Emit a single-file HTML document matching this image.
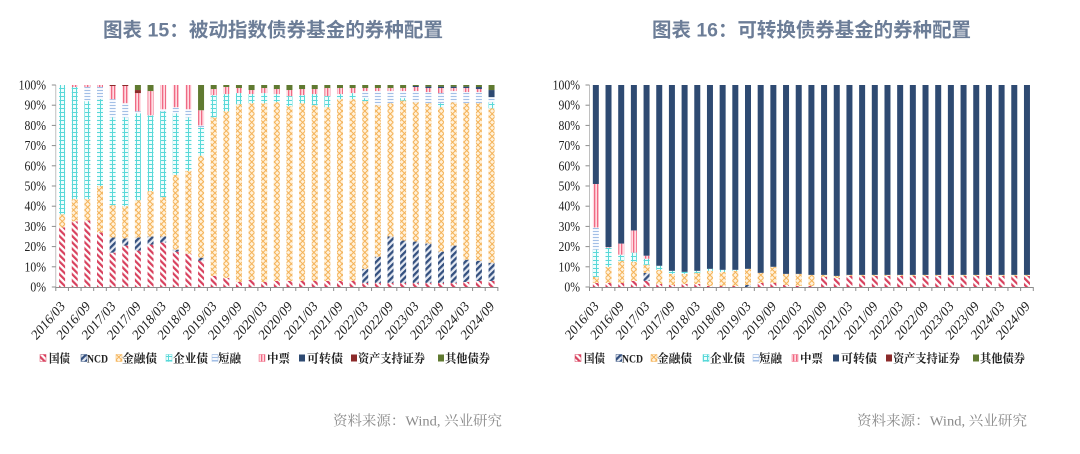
<!DOCTYPE html>
<html><head><meta charset="utf-8">
<style>
html,body{margin:0;padding:0;background:#fff;}
svg{display:block;}
.t{font-family:"Liberation Sans","Noto Sans CJK SC",sans-serif;font-weight:bold;font-size:19.5px;fill:#6c7d97;}
.ax{font-family:"Liberation Serif","Noto Serif CJK SC",serif;font-size:13.5px;fill:#222;}
.xl{font-family:"Liberation Serif","Noto Serif CJK SC",serif;font-size:14.5px;fill:#222;}
.lg{font-family:"Liberation Serif","Noto Serif CJK SC",serif;font-size:12px;fill:#222;font-weight:bold;}
.src{font-family:"Liberation Serif","Noto Serif CJK SC",serif;font-size:14px;fill:#8a8a8a;}
</style></head><body>
<svg id="s" xmlns="http://www.w3.org/2000/svg" width="1080" height="454" viewBox="0 0 1080 454">
<defs>
<pattern id="pGZ" width="4.5" height="4.5" patternUnits="userSpaceOnUse" patternTransform="rotate(-45)">
<rect width="4.5" height="4.5" fill="#fff"/><rect width="2.2" height="4.5" fill="#d8415e"/></pattern>
<pattern id="pNCD" width="4.5" height="4.5" patternUnits="userSpaceOnUse" patternTransform="rotate(45)">
<rect width="4.5" height="4.5" fill="#e6eaf2"/><rect width="2.3" height="4.5" fill="#34507f"/></pattern>
<pattern id="pJR" width="4" height="4" patternUnits="userSpaceOnUse" patternTransform="rotate(45)">
<rect width="4" height="4" fill="#fff1da"/><rect width="1" height="4" fill="#f4b257"/><rect width="4" height="1" fill="#f4b257"/></pattern>
<pattern id="pQY" width="4" height="4" patternUnits="userSpaceOnUse">
<rect width="4" height="4" fill="#effdfd"/><rect width="1" height="4" fill="#58d8d8"/><rect width="4" height="1" fill="#58d8d8"/></pattern>
<pattern id="pDR" width="3" height="3" patternUnits="userSpaceOnUse">
<rect width="3" height="3" fill="#f6f9fe"/><rect width="3" height="1" fill="#a3bfe6"/></pattern>
<pattern id="pZP" width="3" height="3" patternUnits="userSpaceOnUse">
<rect width="3" height="3" fill="#ffdbe2"/><rect width="1.3" height="3" fill="#f06a84"/></pattern>
</defs>

<!-- Titles -->
<text class="t" x="103" y="36.5" textLength="340" lengthAdjust="spacingAndGlyphs">图表 15：被动指数债券基金的券种配置</text>
<text class="t" x="652" y="36.5" textLength="319" lengthAdjust="spacingAndGlyphs">图表 16：可转换债券基金的券种配置</text>

<g id="bars"></g>

<!-- Left Y labels -->
<g class="ax" text-anchor="end">
<text transform="translate(46,291.5) scale(0.87,1)">0%</text>
<text transform="translate(46,271.3) scale(0.87,1)">10%</text>
<text transform="translate(46,251.1) scale(0.87,1)">20%</text>
<text transform="translate(46,230.9) scale(0.87,1)">30%</text>
<text transform="translate(46,210.7) scale(0.87,1)">40%</text>
<text transform="translate(46,190.5) scale(0.87,1)">50%</text>
<text transform="translate(46,170.3) scale(0.87,1)">60%</text>
<text transform="translate(46,150.1) scale(0.87,1)">70%</text>
<text transform="translate(46,129.9) scale(0.87,1)">80%</text>
<text transform="translate(46,109.7) scale(0.87,1)">90%</text>
<text transform="translate(46,89.5) scale(0.87,1)">100%</text>
</g>
<!-- Right Y labels -->
<g class="ax" text-anchor="end">
<text transform="translate(580,291.5) scale(0.87,1)">0%</text>
<text transform="translate(580,271.3) scale(0.87,1)">10%</text>
<text transform="translate(580,251.1) scale(0.87,1)">20%</text>
<text transform="translate(580,230.9) scale(0.87,1)">30%</text>
<text transform="translate(580,210.7) scale(0.87,1)">40%</text>
<text transform="translate(580,190.5) scale(0.87,1)">50%</text>
<text transform="translate(580,170.3) scale(0.87,1)">60%</text>
<text transform="translate(580,150.1) scale(0.87,1)">70%</text>
<text transform="translate(580,129.9) scale(0.87,1)">80%</text>
<text transform="translate(580,109.7) scale(0.87,1)">90%</text>
<text transform="translate(580,89.5) scale(0.87,1)">100%</text>
</g>

<!-- Left X labels -->
<g class="xl" text-anchor="end">
<text transform="translate(65.6,307) scale(0.87,1) rotate(-45)">2016/03</text>
<text transform="translate(90.9,307) scale(0.87,1) rotate(-45)">2016/09</text>
<text transform="translate(116.1,307) scale(0.87,1) rotate(-45)">2017/03</text>
<text transform="translate(141.4,307) scale(0.87,1) rotate(-45)">2017/09</text>
<text transform="translate(166.6,307) scale(0.87,1) rotate(-45)">2018/03</text>
<text transform="translate(191.9,307) scale(0.87,1) rotate(-45)">2018/09</text>
<text transform="translate(217.2,307) scale(0.87,1) rotate(-45)">2019/03</text>
<text transform="translate(242.4,307) scale(0.87,1) rotate(-45)">2019/09</text>
<text transform="translate(267.7,307) scale(0.87,1) rotate(-45)">2020/03</text>
<text transform="translate(292.9,307) scale(0.87,1) rotate(-45)">2020/09</text>
<text transform="translate(318.2,307) scale(0.87,1) rotate(-45)">2021/03</text>
<text transform="translate(343.5,307) scale(0.87,1) rotate(-45)">2021/09</text>
<text transform="translate(368.7,307) scale(0.87,1) rotate(-45)">2022/03</text>
<text transform="translate(394.0,307) scale(0.87,1) rotate(-45)">2022/09</text>
<text transform="translate(419.2,307) scale(0.87,1) rotate(-45)">2023/03</text>
<text transform="translate(444.5,307) scale(0.87,1) rotate(-45)">2023/09</text>
<text transform="translate(469.8,307) scale(0.87,1) rotate(-45)">2024/03</text>
<text transform="translate(495.0,307) scale(0.87,1) rotate(-45)">2024/09</text>
</g>
<!-- Right X labels -->
<g class="xl" text-anchor="end">
<text transform="translate(599.3,307) scale(0.87,1) rotate(-45)">2016/03</text>
<text transform="translate(624.7,307) scale(0.87,1) rotate(-45)">2016/09</text>
<text transform="translate(650.0,307) scale(0.87,1) rotate(-45)">2017/03</text>
<text transform="translate(675.4,307) scale(0.87,1) rotate(-45)">2017/09</text>
<text transform="translate(700.7,307) scale(0.87,1) rotate(-45)">2018/03</text>
<text transform="translate(726.1,307) scale(0.87,1) rotate(-45)">2018/09</text>
<text transform="translate(751.5,307) scale(0.87,1) rotate(-45)">2019/03</text>
<text transform="translate(776.8,307) scale(0.87,1) rotate(-45)">2019/09</text>
<text transform="translate(802.2,307) scale(0.87,1) rotate(-45)">2020/03</text>
<text transform="translate(827.5,307) scale(0.87,1) rotate(-45)">2020/09</text>
<text transform="translate(852.9,307) scale(0.87,1) rotate(-45)">2021/03</text>
<text transform="translate(878.3,307) scale(0.87,1) rotate(-45)">2021/09</text>
<text transform="translate(903.6,307) scale(0.87,1) rotate(-45)">2022/03</text>
<text transform="translate(929.0,307) scale(0.87,1) rotate(-45)">2022/09</text>
<text transform="translate(954.3,307) scale(0.87,1) rotate(-45)">2023/03</text>
<text transform="translate(979.7,307) scale(0.87,1) rotate(-45)">2023/09</text>
<text transform="translate(1005.1,307) scale(0.87,1) rotate(-45)">2024/03</text>
<text transform="translate(1030.4,307) scale(0.87,1) rotate(-45)">2024/09</text>
</g>

<!-- Left legend -->
<g>
<rect x="40" y="354.5" width="6" height="7" fill="url(#pGZ)" stroke="#d8415e" stroke-width="0.5"/>
<rect x="81" y="354.5" width="6" height="7" fill="url(#pNCD)" stroke="#34507f" stroke-width="0.5"/>
<rect x="116" y="354.5" width="6" height="7" fill="url(#pJR)" stroke="#f4b257" stroke-width="0.5"/>
<rect x="166" y="354.5" width="6" height="7" fill="url(#pQY)" stroke="#58d8d8" stroke-width="0.5"/>
<rect x="212" y="354.5" width="6" height="7" fill="url(#pDR)" stroke="#a3bfe6" stroke-width="0.5"/>
<rect x="259" y="354.5" width="6" height="7" fill="url(#pZP)" stroke="#f06a84" stroke-width="0.5"/>
<rect x="299" y="354.5" width="6" height="7" fill="#2e4a72"/>
<rect x="351" y="354.5" width="6" height="7" fill="#8b2a2a"/>
<rect x="438" y="354.5" width="6" height="7" fill="#607a31"/>
</g>
<g class="lg">
<text x="49" y="362.5" textLength="21" lengthAdjust="spacingAndGlyphs">国债</text>
<text x="87" y="362.5" textLength="21" lengthAdjust="spacingAndGlyphs">NCD</text>
<text x="122" y="362.5" textLength="35" lengthAdjust="spacingAndGlyphs">金融债</text>
<text x="173" y="362.5" textLength="35" lengthAdjust="spacingAndGlyphs">企业债</text>
<text x="218" y="362.5" textLength="23" lengthAdjust="spacingAndGlyphs">短融</text>
<text x="267" y="362.5" textLength="23" lengthAdjust="spacingAndGlyphs">中票</text>
<text x="307" y="362.5" textLength="36" lengthAdjust="spacingAndGlyphs">可转债</text>
<text x="358" y="362.5" textLength="67" lengthAdjust="spacingAndGlyphs">资产支持证券</text>
<text x="445" y="362.5" textLength="45" lengthAdjust="spacingAndGlyphs">其他债券</text>
</g>
<!-- Right legend -->
<g transform="translate(535,0)">
<rect x="40" y="354.5" width="6" height="7" fill="url(#pGZ)" stroke="#d8415e" stroke-width="0.5"/>
<rect x="81" y="354.5" width="6" height="7" fill="url(#pNCD)" stroke="#34507f" stroke-width="0.5"/>
<rect x="116" y="354.5" width="6" height="7" fill="url(#pJR)" stroke="#f4b257" stroke-width="0.5"/>
<rect x="168" y="354.5" width="6" height="7" fill="url(#pQY)" stroke="#58d8d8" stroke-width="0.5"/>
<rect x="218" y="354.5" width="6" height="7" fill="url(#pDR)" stroke="#a3bfe6" stroke-width="0.5"/>
<rect x="257" y="354.5" width="6" height="7" fill="url(#pZP)" stroke="#f06a84" stroke-width="0.5"/>
<rect x="298" y="354.5" width="6" height="7" fill="#2e4a72"/>
<rect x="351" y="354.5" width="6" height="7" fill="#8b2a2a"/>
<rect x="438" y="354.5" width="6" height="7" fill="#607a31"/>
<g class="lg">
<text x="49" y="362.5" textLength="21" lengthAdjust="spacingAndGlyphs">国债</text>
<text x="87" y="362.5" textLength="21" lengthAdjust="spacingAndGlyphs">NCD</text>
<text x="122" y="362.5" textLength="35" lengthAdjust="spacingAndGlyphs">金融债</text>
<text x="175" y="362.5" textLength="35" lengthAdjust="spacingAndGlyphs">企业债</text>
<text x="224" y="362.5" textLength="23" lengthAdjust="spacingAndGlyphs">短融</text>
<text x="265" y="362.5" textLength="23" lengthAdjust="spacingAndGlyphs">中票</text>
<text x="306" y="362.5" textLength="36" lengthAdjust="spacingAndGlyphs">可转债</text>
<text x="358" y="362.5" textLength="67" lengthAdjust="spacingAndGlyphs">资产支持证券</text>
<text x="445" y="362.5" textLength="45" lengthAdjust="spacingAndGlyphs">其他债券</text>
</g>
</g>

<!-- Sources -->
<text class="src" x="333" y="425.5" textLength="169" lengthAdjust="spacingAndGlyphs">资料来源：Wind, 兴业研究</text>
<text class="src" x="857" y="425.5" textLength="170" lengthAdjust="spacingAndGlyphs">资料来源：Wind, 兴业研究</text>
</svg>
<script>
(function(){
var NS="http://www.w3.org/2000/svg";
var g=document.getElementById("bars");
var fills=["url(#pGZ)","url(#pNCD)","url(#pJR)","url(#pQY)","url(#pDR)","url(#pZP)","#2e4a72","#8b2a2a","#607a31"];
var L=[
[29.5,29.5,36,100],[32.5,32.5,43.5,99,99,100],[33,33,43.5,92,99,100],[27,27,50,93,99,100],
[17,24.5,40.5,84,93,99.5,99.5,100],[20.5,24,40,84,91,99.5,99.5,100],[18,24.5,43,86,87,96,96,97.5],
[21,25,47.5,85,85,97],[22,25,44.5,87,88,100],[17.5,18.5,55.5,86,89,100],[16.5,16.5,57.5,84,88,100],
[13,14.5,65,79,80,87.5],[5.5,5.5,84,95,95,98],[4.5,4.5,87,95.5,95.5,99],[2.5,2.5,90.5,96,96,98.5],
[3.5,3.5,91,95.5,95.5,97.5],[2.5,2.5,91,96,96,98.5],[3,3,91.5,95.5,95.5,98],[3,3,89.5,94.5,94.5,97.5],
[3,3,91,95,95,98],[3,3,90,95.5,95.5,98],[3,3,89,94.5,94.5,98.5],[3,3,93,95.5,95.5,98.5],
[3,3,93,96,96,98.5],[2,9,92,93.5,97,98.5],[2,15,90,90,97,98.5],[2,25,91,91,97,98.5],
[2,23,92.3,93.5,97,98.5],[2,22.5,91.5,91.5,97,99,99.5],[2,21.5,91,91,96.5,98.5,99.2],
[2,17.5,89,91,96,98.5,99.2],[2,20.5,91.5,91.5,97,98.5,99.2],[2.5,13.5,91,91,96.5,98.5,99.2],
[3,13,91,91,96.5,98,99],[3,12,88.5,91.5,94,94,97.5]];
var R=[
[2,2,5,18.5,29.5,51],[2,2,10,19.5,19.5,19.8],[2,2,13,16,16,21.5],[3,3,12.5,17,17,28],
[3,7,11,14,14,15.5],[1.5,1.5,8.5,10.5],[1,1,6.5,8],[1.5,1.5,6.5,7.5],[1.5,1.5,7,8],
[0.5,0.5,8,9],[0.5,0.5,7.5,8.5],[0.5,0.5,8,8.5],[0,1,9,9],[2,2,7,7],[2,2,10,10],
[1,1,6.5],[0.5,0.5,6.5],[0.5,0.5,6],[5,5,6],[4.5,4.5,5.5]];
while(R.length<35) R.push([5.5,5.5,6]);
L=L.map(function(a){a=a.slice();while(a.length<8)a.push(a[a.length-1]);a.push(100);return a;});
R=R.map(function(a){a=a.slice();while(a.length<6)a.push(a[a.length-1]);a.push(100,100,100);return a;});
function el(n,at){var e=document.createElementNS(NS,n);for(var k in at)e.setAttribute(k,at[k]);g.appendChild(e);return e;}
function chart(data,x0,w){
  var y0=287,H=202;
  for(var i=0;i<data.length;i++){
    var c=x0+(i+0.5)*w,a=data[i];
    for(var k=0;k<9;k++){
      var b=k?a[k-1]:0,t=a[k];
      if(t-b>0.01) el("rect",{x:(c-3).toFixed(2),y:(y0-t*H/100).toFixed(2),width:6,height:((t-b)*H/100).toFixed(2),fill:fills[k]});
    }
  }
  el("line",{x1:x0,y1:y0+0.5,x2:x0+35*w,y2:y0+0.5,stroke:"#8c8c8c","stroke-width":1});
  for(var j=0;j<=35;j++){var x=x0+j*w;el("line",{x1:x,y1:y0,x2:x,y2:y0+4,stroke:"#8c8c8c","stroke-width":1});}
  el("line",{x1:x0,y1:85,x2:x0,y2:y0,stroke:"#b0b0b0","stroke-width":0.8});
  for(var m=0;m<=10;m++){var yy=y0-m*H/10;el("line",{x1:x0-4,y1:yy,x2:x0,y2:yy,stroke:"#8c8c8c","stroke-width":1});}
}
chart(L,55.8,12.63);
chart(R,589.5,12.68);
})();
</script>
</body></html>
